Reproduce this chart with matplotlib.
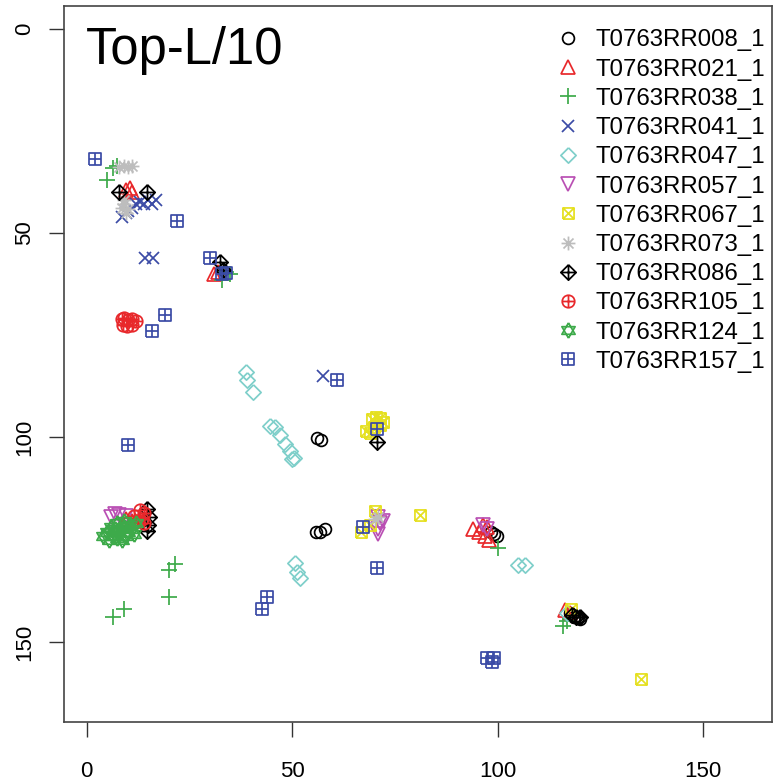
import matplotlib
matplotlib.use("Agg")
import matplotlib.pyplot as plt
import numpy as np
from matplotlib.path import Path

plt.rcParams['font.family'] = ['Liberation Sans', 'DejaVu Sans']

# contact map points (residue i, residue j) per model
names = ["T0763RR008_1", "T0763RR021_1", "T0763RR038_1", "T0763RR041_1",
         "T0763RR047_1", "T0763RR057_1", "T0763RR067_1", "T0763RR073_1",
         "T0763RR086_1", "T0763RR105_1", "T0763RR124_1", "T0763RR157_1"]

rr008 = [(56, 100.2), (57, 100.5), (55.7, 123), (56.9, 123), (58, 122.5),
         (98.3, 123), (99.2, 123.5), (99.8, 124), (117.5, 143), (118.5, 144),
         (119.5, 143.8), (120, 144.5)]
rr021 = [(9.5, 39.5), (10.5, 39), (11, 40), (31, 60), (32, 59.5), (9.5, 120),
         (11, 120.5), (94, 122.5), (95.5, 123), (96.5, 121.5), (97, 124),
         (97.5, 122), (98, 125), (116.5, 142.2), (117.5, 143)]
rr038 = [(5, 37), (6.5, 34), (7.5, 33.5), (33, 61.5), (34, 59.5), (35, 60),
         (20, 132.5), (21.5, 131), (20, 139), (6.5, 144), (9, 142), (100, 127),
         (116, 146), (117, 145), (8, 122), (10, 121)]
rr041 = [(8.5, 46), (9.5, 45), (11, 44), (12, 43), (13, 42.5), (14, 43),
         (15, 42), (16, 43), (17, 42), (14.3, 56), (16.2, 56), (57.5, 85),
         (10, 44.5)]
rr047 = [(38.7, 84), (39, 86), (40.6, 89), (44.7, 97.2), (45.9, 97.5),
         (47, 99.5), (48.3, 101.5), (49.5, 103.2), (50.5, 105), (50, 105.3),
         (50.8, 130.8), (51.3, 133), (52, 134.3), (105, 131.2), (106.7, 131.2),
         (117, 143)]
rr057 = [(6, 119.5), (7, 118.8), (8, 119), (9.5, 119.2), (71, 119.5),
         (71.5, 121), (71, 122.5), (70.8, 123.5), (72, 120.5), (96.5, 121.5),
         (97.3, 122.3)]
rr067 = [(69.5, 95.5), (70.5, 95), (71.5, 95.2), (72, 96.2), (70, 97.5),
         (68, 98.5), (69, 98.9), (71.5, 97), (70.2, 118), (69, 121.5),
         (66.8, 123), (81, 119), (117.8, 142), (135, 159)]
rr073 = [(8, 33.8), (9, 33.6), (10, 33.8), (11, 33.6), (8.5, 44), (9, 43),
         (9.5, 45), (9, 42), (10, 44.2), (70.2, 120), (70.8, 119.5)]
rr086 = [(7.8, 40), (14.8, 40), (32.5, 57), (33.3, 59), (14.8, 117.5),
         (15.2, 119.5), (15, 121.5), (14.7, 122.8), (70.7, 101.2),
         (118, 143.5), (119, 144), (120, 143.8)]
rr105 = [(8.5, 71), (9.2, 70.8), (10, 71.2), (11, 71), (12, 71.5),
         (8.8, 72.5), (9.8, 72.8), (11, 72.5), (13, 117.8), (14, 118.5),
         (13.5, 120), (14, 121), (12.5, 120.5), (10, 121), (11.5, 119.3)]
rr124 = [(4, 124), (5, 123), (5.5, 125), (6.5, 124), (7, 122.5), (7.5, 124.5),
         (8, 123), (8.5, 125), (9, 122), (9.5, 124), (10, 123), (10.5, 121.5),
         (11, 122.5), (11.5, 123.5), (12, 121), (7.5, 121), (6, 122),
         (9, 120.5)]
rr157 = [(2, 32), (22, 47), (30, 56), (34, 59.8), (33, 60), (19, 70), (16, 74),
         (10, 101.8), (61, 86), (70.7, 98), (67.3, 122), (70.7, 132),
         (43.8, 139), (42.8, 142), (97.5, 154), (98.7, 155), (99, 154)]

series = [rr008, rr021, rr038, rr041, rr047, rr057,
          rr067, rr073, rr086, rr105, rr124, rr157]

colors = ["black", "#E8282B", "#3DAA4A", "#3B4BA6", "#7ECFCA", "#B94FB3",
          "#E5E020", "#BDBDBD", "black", "#E8282B", "#3DAA4A", "#3B4BA6"]


def seg_path(*segs):
    verts, codes = [], []
    for s in segs:
        verts += s
        codes += [Path.MOVETO] + [Path.LINETO] * (len(s) - 1)
    return Path(verts, codes)


sq = [(-1, -1), (1, -1), (1, 1), (-1, 1), (-1, -1)]
dia = [(0, 1), (1, 0), (0, -1), (-1, 0), (0, 1)]
circ = Path.unit_circle()

square_x = seg_path(sq, [(-1, -1), (1, 1)], [(-1, 1), (1, -1)])
square_plus = seg_path(sq, [(-1, 0), (1, 0)], [(0, -1), (0, 1)])
diamond = seg_path(dia)
diamond_plus = seg_path(dia, [(-1, 0), (1, 0)], [(0, -1), (0, 1)])
circle_plus = Path.make_compound_path(circ, seg_path([(-1, 0), (1, 0)], [(0, -1), (0, 1)]))
asterisk = seg_path([(-1, 0), (1, 0)], [(0, -1), (0, 1)],
                    [(-0.72, -0.72), (0.72, 0.72)], [(-0.72, 0.72), (0.72, -0.72)])
star_david = seg_path([(0, 1), (0.866, -0.5), (-0.866, -0.5), (0, 1)],
                      [(0, -1), (0.866, 0.5), (-0.866, 0.5), (0, -1)])

markers = ["o", "^", "+", "x", diamond, "v", square_x, asterisk,
           diamond_plus, circle_plus, star_david, square_plus]
msizes = [8.5, 9.5, 11, 8.5, 11, 9.5, 8, 10, 11, 9, 11, 8]

fig = plt.figure(figsize=(7.8, 7.84), dpi=100)
ax = fig.add_axes([0.082, 0.0795, 0.908, 0.9125])

for pts, name, col, mk, ms in zip(series, names, colors, markers, msizes):
    arr = np.array(pts)
    ax.plot(arr[:, 0], arr[:, 1], linestyle="none", marker=mk, markersize=ms,
            markerfacecolor="none", markeredgecolor=col, markeredgewidth=1.25,
            label=name)

ax.set_xlim(-5.5, 166.8)
ax.set_ylim(169.5, -5.45)
ax.set_xticks([0, 50, 100, 150])
ax.set_yticks([0, 50, 100, 150])
ax.tick_params(axis="both", labelsize=16, length=11, width=1, color="#333333")
ax.tick_params(axis="x", pad=17)
ax.tick_params(axis="y", pad=10, labelrotation=90)
for lab in ax.get_yticklabels():
    lab.set_va("center")
for sp in ax.spines.values():
    sp.set_color("#444444")
    sp.set_linewidth(1.2)

ax.text(0.031, 0.920, "Top-L/10", transform=ax.transAxes, fontsize=36.5,
        ha="left", va="baseline")

ax.legend(loc="upper right", bbox_to_anchor=(1.004, 0.981), frameon=False,
          fontsize=17.3, labelspacing=0.3, handletextpad=0.57,
          handlelength=1.2, borderaxespad=0)

fig.savefig("out.png", dpi=100)
